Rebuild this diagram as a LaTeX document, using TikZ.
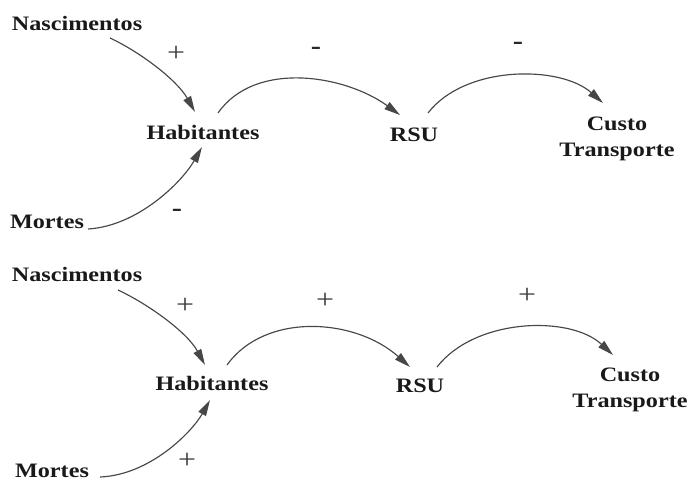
\documentclass[tikz,border=0pt]{standalone}
\usepackage{fontspec}
\setmainfont{Liberation Serif}[FakeStretch=1.18]
\usetikzlibrary{arrows.meta}
\tikzset{
  lbl/.style={font=\fontsize{20.5}{26}\selectfont\bfseries, inner sep=0pt, align=center, text=black!90},
  sgn/.style={font=\fontsize{27}{27}\selectfont, inner sep=0pt, text=black!75},
  msgn/.style={font=\fontsize{26}{26}\selectfont\bfseries, inner sep=0pt, text=black!85},
  arr/.style={draw=black!72, line width=1.15pt, -{Triangle[length=16pt,width=8.5pt]}},
}
\begin{document}
\begin{tikzpicture}[x=1pt,y=-1pt]
\useasboundingbox (0,0) rectangle (687,484);
% ---------- top diagram ----------
\node[lbl] (nasc1) at (77,23) {Nascimentos};
\node[lbl] (hab1) at (203,132) {Habitantes};
\node[lbl] (mort1) at (47,222) {Mortes};
\node[lbl] (rsu1) at (414,135) {RSU};
\node[lbl] (custo1) at (617,139) {Custo\\Transporte};
\node[sgn] (s1a) at (176,54) {+};
\node[msgn] (s1b) at (316,51) {-};
\node[msgn] (s1c) at (177,213) {-};
\node[msgn] (s1d) at (518,46) {-};
\draw[arr] ([shift={(33,15)}]nasc1.center) .. controls +(30,14) and +(-18,-32) .. ([shift={(-8,-20)}]hab1.center);
\draw[arr] ([shift={(41,7)}]mort1.center) .. controls +(50,-3) and +(-20,35) .. ([shift={(-1,15)}]hab1.center);
\draw[arr] ([shift={(15,-19)}]hab1.center) .. controls +(37,-53) and +(-55,-40) .. ([shift={(-14,-20)}]rsu1.center);
\draw[arr] ([shift={(14,-22)}]rsu1.center) .. controls +(37,-48) and +(-43,-38) .. ([shift={(-14,-36)}]custo1.center);
% ---------- bottom diagram ----------
\node[lbl] (nasc2) at (77,274) {Nascimentos};
\node[lbl] (hab2) at (212,383) {Habitantes};
\node[lbl] (mort2) at (52,471) {Mortes};
\node[lbl] (rsu2) at (420,386) {RSU};
\node[lbl] (custo2) at (630,390) {Custo\\Transporte};
\node[sgn] (s2a) at (185,306) {+};
\node[sgn] (s2b) at (325,301) {+};
\node[sgn] (s2c) at (187,461) {+};
\node[sgn] (s2d) at (527,296) {+};
\draw[arr] ([shift={(41,16)}]nasc2.center) .. controls +(30,14) and +(-18,-33) .. ([shift={(-7,-18)}]hab2.center);
\draw[arr] ([shift={(48,6)}]mort2.center) .. controls +(50,-2) and +(-18,32) .. ([shift={(-2,17)}]hab2.center);
\draw[arr] ([shift={(15,-18)}]hab2.center) .. controls +(38,-53) and +(-55,-49) .. ([shift={(-10,-19)}]rsu2.center);
\draw[arr] ([shift={(17,-19)}]rsu2.center) .. controls +(38,-49) and +(-43,-40) .. ([shift={(-17,-35)}]custo2.center);
\end{tikzpicture}
\end{document}
